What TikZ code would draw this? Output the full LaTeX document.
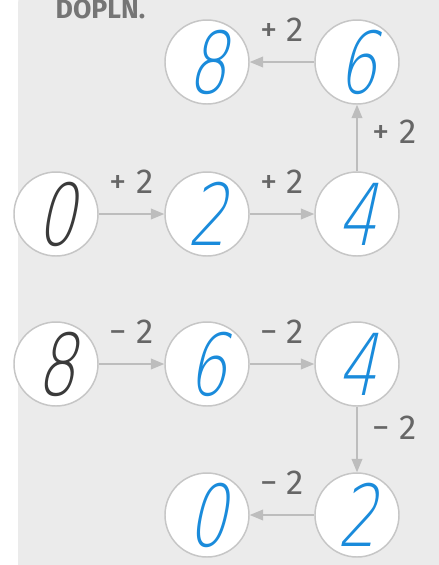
\documentclass[tikz,border=0pt]{standalone}
\usepackage{fontspec}
\usepackage{xcolor}
\usetikzlibrary{positioning,arrows.meta}
\newfontfamily\handfont[FakeSlant=0.22,FakeStretch=0.72]{DejaVu Sans ExtraLight}
\newfontfamily\labelfont{Fira Sans}
\definecolor{panelgray}{HTML}{EBEBEB}
\definecolor{ringgray}{HTML}{C6C6C6}
\definecolor{arrowgray}{HTML}{BDBDBD}
\definecolor{labelgray}{HTML}{666666}
\definecolor{inkblue}{HTML}{1A8BDB}
\definecolor{inkdark}{HTML}{3A3A3A}

\begin{document}
\begin{tikzpicture}[x=0.75pt,y=-0.75pt,
        numcirc/.style={circle,draw=ringgray,fill=white,line width=1.1pt,
                        minimum size=63pt,inner sep=0pt,
                        font=\handfont\fontsize{64}{64}\selectfont},
        conn/.style={arrowgray,line width=1.1pt,
                     -{Triangle[length=10pt,width=8pt]}},
        lbl/.style={font=\labelfont\fontsize{26}{26}\selectfont,
                    text=labelgray,inner sep=0pt}]
        \fill[white] (0,0) rectangle (439,565);
        \useasboundingbox (0,0) rectangle (439,565);
        \fill[panelgray,rounded corners=18pt] (18,-20) rectangle (470,600);
        \node[font=\labelfont\bfseries\fontsize{20}{20}\selectfont,
              text=labelgray!90,anchor=base west] (title) at (51,18) {DOPLN.};
        % upper chain: +2
        \foreach \n/\x/\y/\d/\c in {a0/56/214/0/inkdark,a2/207/214/2/inkblue,
                                    a4/357/214/4/inkblue,a6/357/62/6/inkblue,
                                    a8/207/62/8/inkblue}
          \node[numcirc,text=\c] (\n) at (\x,\y) {\d};
        % lower chain: -2
        \foreach \n/\x/\y/\d/\c in {b8/56/364/8/inkdark,b6/207/364/6/inkblue,
                                    b4/357/364/4/inkblue,b2/357/515/2/inkblue,
                                    b0/207/515/0/inkblue}
          \node[numcirc,text=\c] (\n) at (\x,\y) {\d};
        \foreach \s/\t/\op in {a0/a2/+,a2/a4/+,a6/a8/+,b8/b6/−,b6/b4/−,b2/b0/−}
          \draw[conn] (\s) -- node[lbl,midway,yshift=24pt] {\op\kern7pt 2} (\t);
        \draw[conn] (a4) -- node[lbl,midway,xshift=28pt,yshift=5pt] {+\kern7pt 2} (a6);
        \draw[conn] (b4) -- node[lbl,midway,xshift=28pt,yshift=9pt] {−\kern7pt 2} (b2);
      \end{tikzpicture}
\end{document}
